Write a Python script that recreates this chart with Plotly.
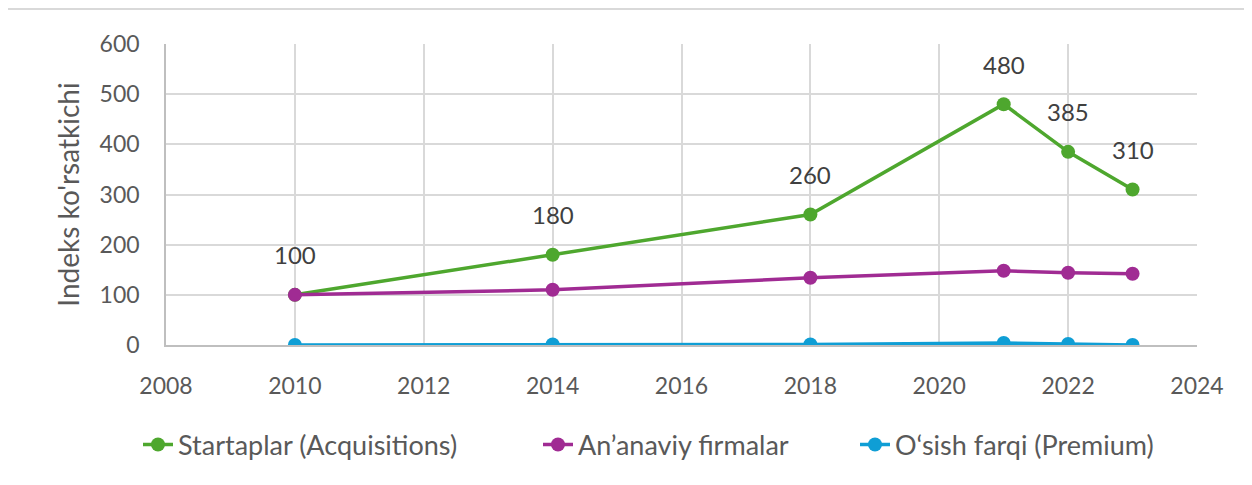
import plotly.graph_objects as go

years = [2010, 2014, 2018, 2021, 2022, 2023]
startaplar = [100, 180, 260, 480, 385, 310]
ananaviy = [100, 110, 134, 148, 144, 142]
osish = [0, 1, 1, 4, 2, 0]

names = ["Startaplar (Acquisitions)", "An\u2019anaviy firmalar", "O\u2018sish farqi (Premium)"]
colors = ["#4EA72E", "#A02B93", "#0F9ED5"]
series = [startaplar, ananaviy, osish]
legend_ids = ["legend", "legend2", "legend3"]
legend_left_px = [143, 543, 860]

FONT = "Lato, Open Sans, sans-serif"
TXT = "#595959"

fig = go.Figure()
for name, col, vals, lid in zip(names, colors, series, legend_ids):
    fig.add_trace(go.Scatter(
        x=years, y=vals, name=name, mode="lines+markers",
        line=dict(color=col, width=3.5),
        marker=dict(color=col, size=14),
        legend=lid,
    ))

for x, y in zip(years, startaplar):
    fig.add_annotation(x=x, y=y, text=str(y), showarrow=False, yshift=40,
                       font=dict(size=24, color="#404040", family=FONT))

OFF = 8  # page body margin
L, R, T, B = 166 - OFF, 55 + OFF, 44 - OFF, 140 + OFF
W, H = 1252, 485
pw = W - L - R
ph = H - T - B

def px(xp):
    return (xp - OFF - L) / pw

def py(yp):
    return (H - B - (yp - OFF)) / ph

# frame (top and left edges visible)
fig.add_shape(type="line", xref="paper", yref="paper",
              x0=px(6), x1=px(1300), y0=py(9), y1=py(9),
              line=dict(color="#D9D9D9", width=2), layer="below")
fig.add_shape(type="line", xref="paper", yref="paper",
              x0=px(6), x1=px(6), y0=py(9), y1=py(520),
              line=dict(color="#D9D9D9", width=2), layer="below")

leg_common = dict(orientation="h", yanchor="middle", xanchor="left",
                  font=dict(size=27, color=TXT), bgcolor="rgba(0,0,0,0)")
legends = {}
for lid, lx in zip(legend_ids, legend_left_px):
    legends[lid] = dict(leg_common, x=px(lx - 5), y=py(445))

fig.update_layout(
    width=W, height=H,
    margin=dict(l=L, r=R, t=T, b=B),
    paper_bgcolor="white", plot_bgcolor="white",
    font=dict(family=FONT, size=22, color=TXT),
    showlegend=True,
    **legends,
    xaxis=dict(range=[2008, 2024], dtick=2, tick0=2008, showgrid=True,
               gridcolor="#D9D9D9", gridwidth=1.5, showline=True, linecolor="#BFBFBF",
               linewidth=1.5, zeroline=False, ticks="", ticklabelstandoff=20,
               tickfont=dict(size=23, color=TXT)),
    yaxis=dict(range=[0, 600], dtick=100, showgrid=True, gridcolor="#D9D9D9",
               gridwidth=1.5, showline=True, linecolor="#BFBFBF", linewidth=1.5,
               zeroline=False, ticks="", ticklabelstandoff=20,
               tickfont=dict(size=23, color=TXT),
               title=dict(text="Indeks ko'rsatkichi", font=dict(size=28, color=TXT), standoff=12)),
)

fig.write_html("out.html")
